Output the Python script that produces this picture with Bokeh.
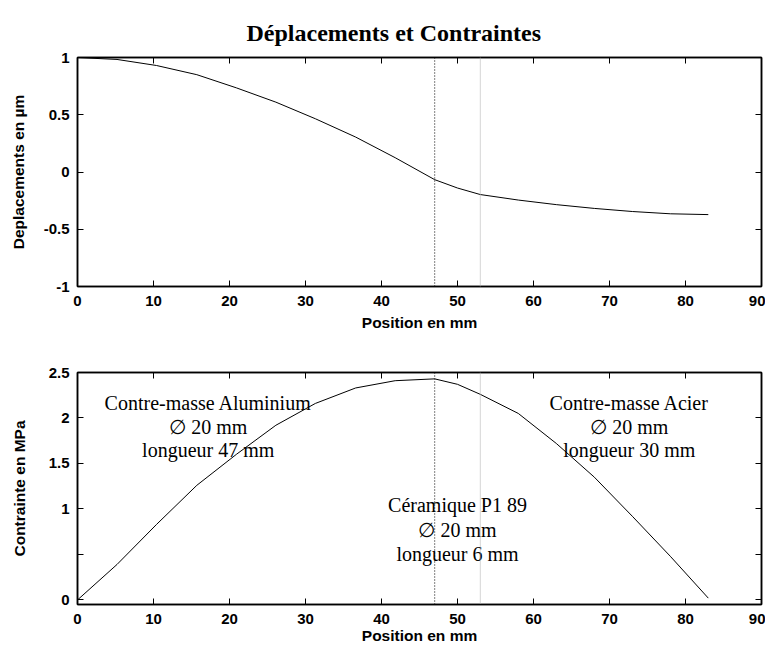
from bokeh.plotting import figure
from bokeh.models import LinearAxis, FixedTicker, Span, Range1d
from bokeh.layouts import column
from bokeh.core.properties import value
from bokeh.embed import file_html
from bokeh.resources import INLINE

# ---- data ----
positions = [0, 5.2, 10.4, 15.7, 20.9, 26.1, 31.3, 36.6, 41.8, 47, 50, 53, 58, 63, 68, 73, 78, 83]
deplacement = [1.0, 0.983, 0.93, 0.85, 0.735, 0.61, 0.465, 0.305, 0.125, -0.067, -0.14, -0.197,
               -0.245, -0.285, -0.318, -0.345, -0.365, -0.372]
contrainte = [0.0, 0.39, 0.83, 1.26, 1.6, 1.92, 2.16, 2.33, 2.41, 2.43, 2.37, 2.26,
              2.05, 1.72, 1.35, 0.92, 0.48, 0.02]

x_ticks = [0, 10, 20, 30, 40, 50, 60, 70, 80, 90]
x_labels = ["0", "10", "20", "30", "40", "50", "60", "70", "80", "90"]
y1_ticks = [-1, -0.5, 0, 0.5, 1]
y1_labels = ["-1", "-0.5", "0", "0.5", "1"]
y2_ticks = [0, 0.5, 1, 1.5, 2, 2.5]
y2_labels = ["0", "", "1", "1.5", "2", "2.5"]

interfaces = [47, 53]  # limites céramique

annot_x = [17.2, 17.2, 17.2, 72.6, 72.6, 72.6, 50.0, 50.0, 50.0]
annot_y = [2.17, 1.90, 1.65, 2.17, 1.90, 1.65, 1.04, 0.77, 0.51]
annot_text = ["Contre-masse Aluminium", "\u2205 20 mm", "longueur 47 mm",
              "Contre-masse Acier", "\u2205 20 mm", "longueur 30 mm",
              "C\u00e9ramique P1 89", "\u2205 20 mm", "longueur 6 mm"]

SANS = "Liberation Sans"
SERIF = "Liberation Serif"


def style(p, yt, yl, xlabel, ylabel):
    p.xgrid.grid_line_color = None
    p.ygrid.grid_line_color = None
    p.outline_line_color = "black"
    p.outline_line_width = 1.5
    p.background_fill_color = "white"
    p.border_fill_color = "white"
    xa = p.xaxis[0]
    ya = p.yaxis[0]
    xa.ticker = FixedTicker(ticks=x_ticks)
    xa.major_label_overrides = {t: l for t, l in zip(x_ticks, x_labels)}
    ya.ticker = FixedTicker(ticks=yt)
    ya.major_label_overrides = {t: l for t, l in zip(yt, yl)}
    xa.axis_label = xlabel
    ya.axis_label = ylabel
    for ax in (xa, ya):
        ax.axis_line_color = "black"
        ax.axis_line_width = 1.5
        ax.major_tick_in = 6
        ax.major_tick_out = 0
        ax.minor_tick_line_color = None
        ax.major_tick_line_color = "black"
        ax.major_label_text_font = SANS
        ax.major_label_text_font_style = "bold"
        ax.major_label_text_font_size = "15px"
        ax.major_label_text_color = "black"
        ax.axis_label_text_font = SANS
        ax.axis_label_text_font_style = "bold"
        ax.axis_label_text_font_size = "15.5px"
        ax.axis_label_text_color = "black"
    # box ticks on top / right (no labels)
    top = LinearAxis(ticker=FixedTicker(ticks=x_ticks),
                     major_label_overrides={t: "" for t in x_ticks},
                     major_tick_in=6, major_tick_out=0, minor_tick_line_color=None,
                     axis_line_color="black", axis_line_width=1.5, major_label_standoff=0)
    right = LinearAxis(ticker=FixedTicker(ticks=yt),
                       major_label_overrides={t: "" for t in yt},
                       major_tick_in=6, major_tick_out=0, minor_tick_line_color=None,
                       axis_line_color="black", axis_line_width=1.5, major_label_standoff=0)
    p.add_layout(top, "above")
    p.add_layout(right, "right")
    p.add_layout(Span(location=interfaces[0], dimension="height", line_color="black",
                      line_dash="1 2", line_width=1))
    p.add_layout(Span(location=interfaces[1], dimension="height", line_color="#aaaaaa",
                      line_dash="1 1", line_width=1))
    return xa, ya


# ---- top figure ----
p1 = figure(width=765, height=340, x_range=Range1d(0, 90), y_range=Range1d(-1, 1),
            output_backend="svg", toolbar_location=None,
            min_border_left=77, min_border_right=4, min_border_top=57, min_border_bottom=54)
p1.title.text = "D\u00e9placements et Contraintes"
p1.title.align = "left"
p1.title.offset = 169
p1.title.text_font = SERIF
p1.title.text_font_style = "bold"
p1.title.text_font_size = "24px"
p1.title.text_color = "black"
p1.title.standoff = 24
xa1, ya1 = style(p1, y1_ticks, y1_labels, "Position en mm", "Deplacements en \u00b5m")
xa1.major_label_standoff = 9
xa1.axis_label_standoff = 5
ya1.major_label_standoff = 8
ya1.axis_label_standoff = 14
p1.line(positions, deplacement, line_color="black", line_width=1)

# ---- bottom figure ----
p2 = figure(width=765, height=306, x_range=Range1d(0, 90), y_range=Range1d(-0.05, 2.5),
            output_backend="svg", toolbar_location=None,
            min_border_left=77, min_border_right=4, min_border_top=32, min_border_bottom=42)
xa2, ya2 = style(p2, y2_ticks, y2_labels, "Position en mm", "Contrainte en MPa")
xa2.major_label_standoff = 9
xa2.axis_label_standoff = 0
ya2.major_label_standoff = 8
ya2.axis_label_standoff = 18
p2.line(positions, contrainte, line_color="black", line_width=1)
p2.text(x=annot_x, y=annot_y, text=annot_text, text_align="center", text_baseline="middle",
        text_font=value(SERIF), text_font_size="20px", text_color="black")

layout = column(p1, p2, spacing=0)
open("out.html", "w").write(file_html(layout, INLINE))
